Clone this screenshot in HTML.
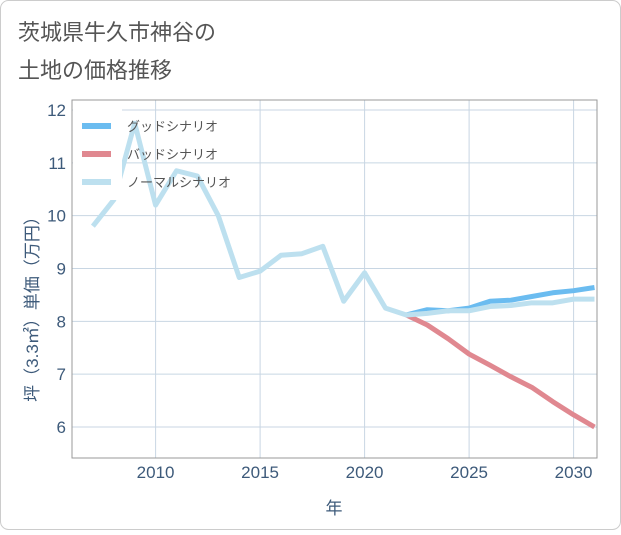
<!DOCTYPE html>
<html><head><meta charset="utf-8"><style>
body{margin:0;background:#fff;font-family:"Liberation Sans","Noto Sans CJK JP",sans-serif;}
</style></head><body>
<svg width="621" height="530" xmlns="http://www.w3.org/2000/svg">
<rect x="0.5" y="0.5" width="620" height="529" rx="8" fill="#fff" stroke="#ccc"/>
<text x="18" y="40" font-size="22" fill="#555">茨城県牛久市神谷の</text>
<text x="18" y="78" font-size="22" fill="#555">土地の価格推移</text>
<g id="grid"></g>
<rect x="72" y="100" width="525" height="358" fill="none" stroke="#999"/>
<g id="series"></g>
<rect x="73" y="108" width="49" height="92" fill="#fff"/>
<g id="legend"></g>
<text x="38" y="305" font-size="17" fill="#3d5a7a" transform="rotate(-90 38 305)" text-anchor="middle">坪（3.3㎡）単価（万円）</text>
<text x="334" y="514" font-size="17" fill="#3d5a7a" text-anchor="middle">年</text>
</svg>
<script>
const yTicks=[6,7,8,9,10,11,12];
const xTicks=[2010,2015,2020,2025,2030];
const normalYears=[2007,2008,2009,2010,2011,2012,2013,2014,2015,2016,2017,2018,2019,2020,2021,2022,2023,2024,2025,2026,2027,2028,2029,2030,2031];
const normalVals=[9.8,10.3,11.75,10.2,10.85,10.75,10.0,8.83,8.95,9.25,9.28,9.42,8.38,8.92,8.25,8.12,8.15,8.2,8.2,8.28,8.3,8.35,8.35,8.42,8.42];
const futureYears=[2022,2023,2024,2025,2026,2027,2028,2029,2030,2031];
const goodVals=[8.12,8.22,8.2,8.25,8.38,8.4,8.47,8.54,8.58,8.64];
const badVals=[8.12,7.93,7.67,7.38,7.17,6.95,6.75,6.48,6.23,6.0];
const NS="http://www.w3.org/2000/svg";
const X=y=>72+(y-2006)*20.9;
const Y=v=>110+(12-v)*52.83;
const grid=document.getElementById('grid');
yTicks.forEach(t=>{
 const l=document.createElementNS(NS,'line');
 l.setAttribute('x1',72);l.setAttribute('x2',597);l.setAttribute('y1',Y(t));l.setAttribute('y2',Y(t));
 l.setAttribute('stroke','#c8d6e3');
 
 
 grid.appendChild(l);
 const s=document.createElementNS(NS,'text');
 s.setAttribute('x',66);s.setAttribute('y',Y(t)+6);s.setAttribute('text-anchor','end');
 s.setAttribute('font-size','17');s.setAttribute('fill','#3d5a7a');s.textContent=t;
 
 
 grid.appendChild(s);
});
xTicks.forEach(t=>{
 const l=document.createElementNS(NS,'line');
 l.setAttribute('x1',X(t));l.setAttribute('x2',X(t));l.setAttribute('y1',100);l.setAttribute('y2',458);
 l.setAttribute('stroke','#c8d6e3');
 
 
 grid.appendChild(l);
 const s=document.createElementNS(NS,'text');
 s.setAttribute('x',X(t));s.setAttribute('y',478);s.setAttribute('text-anchor','middle');
 s.setAttribute('font-size','17');s.setAttribute('fill','#3d5a7a');s.textContent=t;
 
 
 grid.appendChild(s);
});
const ser=document.getElementById('series');
function line(xs,vs,color,name){
 const p=document.createElementNS(NS,'polyline');
 p.setAttribute('points',xs.map((x,i)=>X(x)+','+Y(vs[i])).join(' '));
 p.setAttribute('fill','none');p.setAttribute('stroke',color);p.setAttribute('stroke-width','5');
 p.setAttribute('stroke-linejoin','round');
 
 
 ser.appendChild(p);
}
line(futureYears,badVals,'#e08890','bad-scenario-line');
line(futureYears,goodVals,'#6bbcf0','good-scenario-line');
line(normalYears,normalVals,'#bde0ef','normal-scenario-line');
const lg=document.getElementById('legend');
[['グッドシナリオ','#6bbcf0'],['バッドシナリオ','#e08890'],['ノーマルシナリオ','#bde0ef']].forEach((e,i)=>{
 const y=126+i*28;
 const l=document.createElementNS(NS,'line');
 l.setAttribute('x1',82);l.setAttribute('x2',111);l.setAttribute('y1',y);l.setAttribute('y2',y);
 l.setAttribute('stroke',e[1]);l.setAttribute('stroke-width','6');
 
 
 lg.appendChild(l);
 const t=document.createElementNS(NS,'text');
 t.setAttribute('x',127);t.setAttribute('y',y+5);t.setAttribute('font-size','13');t.setAttribute('fill','#555');
 t.textContent=e[0];
 
 
 lg.appendChild(t);
});
</script>
</body></html>
